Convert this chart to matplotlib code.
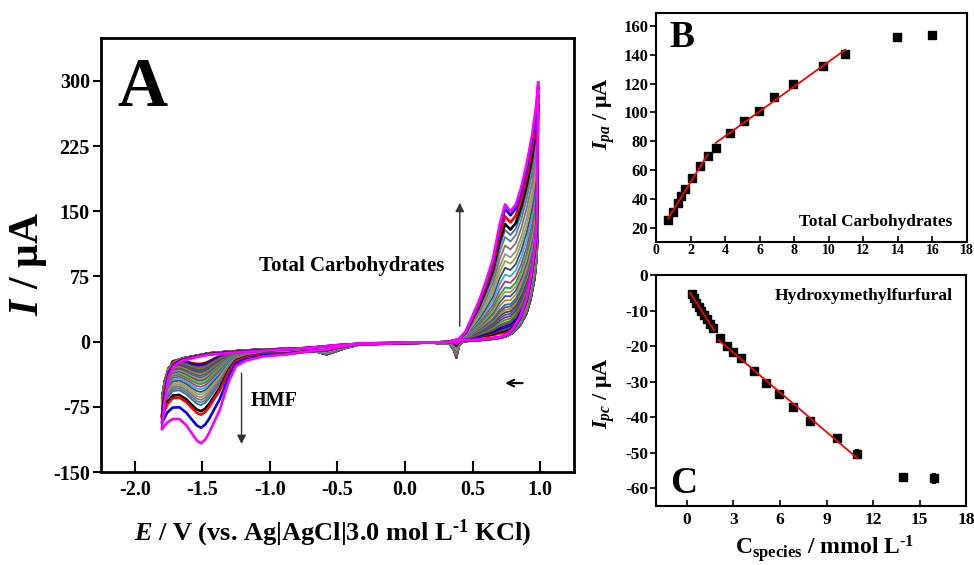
import numpy as np
import matplotlib

matplotlib.use("Agg")
import matplotlib.pyplot as plt

plt.rcParams["font.family"] = ["Liberation Serif", "DejaVu Serif"]
plt.rcParams["font.weight"] = "bold"
plt.rcParams["axes.labelweight"] = "bold"
plt.rcParams["axes.unicode_minus"] = False
plt.rcParams["mathtext.fontset"] = "custom"
plt.rcParams["mathtext.rm"] = "Liberation Serif:bold"
plt.rcParams["mathtext.bf"] = "Liberation Serif:bold"
plt.rcParams["mathtext.it"] = "Liberation Serif:italic:bold"

# ---- panel A: cyclic voltammograms (template shapes) ----
# negative-going sweep, 0.985 V -> -1.80 V
E_ret = [0.985, 0.975, 0.96, 0.93, 0.90, 0.85, 0.80, 0.75, 0.70, 0.60, 0.50, 0.43,
         0.40, 0.38, 0.36, 0.33, 0.20, 0.00, -0.20, -0.35, -0.45, -0.52, -0.58, -0.65,
         -0.75, -0.90, -1.05, -1.18, -1.25, -1.30, -1.33, -1.37, -1.40, -1.45, -1.48,
         -1.51, -1.54, -1.58, -1.62, -1.67, -1.72, -1.76, -1.80]
I_ret_inner = [130, 95, 72, 48, 32, 18, 10, 6, 4, 2, 1, 0,
               -5, -19, -10, -3, -1.5, -2, -3, -4, -8, -12, -15, -12,
               -9, -9, -10, -11, -12, -13, -14, -16, -18, -22, -24,
               -25, -25, -24, -22, -20, -22, -35, -64]
I_ret_outer = [298, 140, 108, 75, 50, 28, 15, 8, 5, 3, 2, 2,
               1, -2, 0, -0.5, -1, -1.5, -2, -3, -5, -7, -9, -10,
               -12, -15, -17, -22, -28, -44, -58, -78, -88, -105, -113,
               -117, -114, -105, -96, -89, -89, -93, -101]
# positive-going sweep, -1.80 V -> 0.985 V
E_fwd = [-1.80, -1.78, -1.75, -1.71, -1.65, -1.55, -1.45, -1.30, -1.10, -0.90, -0.70,
         -0.50, -0.30, -0.10, 0.10, 0.30, 0.40, 0.45, 0.50, 0.55, 0.60, 0.65, 0.70,
         0.74, 0.78, 0.82, 0.86, 0.90, 0.94, 0.97, 0.985]
I_fwd_inner = [-64, -45, -30, -23, -19, -16, -13, -11, -9, -8, -7,
               -5, -3, -2, -1, 0, 0.5, 1.5, 4, 5, 6, 7, 9,
               10, 13, 19, 30, 44, 66, 98, 130]
I_fwd_outer = [-101, -70, -40, -28, -22, -18, -15, -13, -11, -9, -7,
               -4, -2, -1.5, -1, -1, 3, 12, 30, 48, 70, 95, 135,
               158, 150, 158, 178, 205, 238, 272, 298]

# anodic (~0.74 V) and cathodic (~-1.5 V) peak currents of each trace, inner -> outer
anodic_peak = [10, 12, 14, 16, 18, 20, 22, 25, 28, 31, 34, 37, 40, 43, 48,
               53, 58, 63, 70, 78, 86, 94, 102, 112, 122, 130, 137, 146, 155, 160]
cathodic_peak = [-25, -26, -26.5, -27, -28, -29, -30, -31, -32.5, -34, -35.5, -37,
                 -39, -41, -43, -45, -47, -49, -52, -55, -58, -61, -64, -67, -70,
                 -73, -80, -84, -99, -117]
trace_colors = ["#FF0000", "#000000", "#804000", "#0000FF", "#000080", "#C000C0",
                "#00A000", "#808000", "#8020C0", "#007F7F", "#902040", "#80A020",
                "#7040A0", "#208080", "#D08030", "#3050C0", "#B0A030", "#20A040",
                "#C03080", "#20B8D0", "#40408F", "#9AAA30", "#909090", "#8A7060",
                "#5A7FA0", "#3F6F9F", "#000000", "#FF0000", "#0000FF", "#FF00FF"]

# ---- panel B: anodic peak current vs concentration ----
conc_b = [0.7, 1.0, 1.25, 1.45, 1.7, 2.1, 2.55, 3.0, 3.45, 4.3, 5.1, 5.95, 6.85,
          7.95, 9.65, 10.95, 13.95, 15.95]
ipa = [25.5, 31, 37, 42, 47, 54.5, 62.5, 69.5, 75.5, 85.5, 94, 101, 111, 120, 132,
       140.5, 152, 153.5]
ipa_err = [0] * 17 + [2.5]

# ---- panel C: cathodic peak current vs concentration ----
conc_c = [0.3, 0.45, 0.6, 0.75, 0.9, 1.1, 1.3, 1.5, 1.7, 2.15, 2.55, 3.0, 3.5, 4.3,
          5.1, 5.95, 6.85, 7.95, 9.65, 10.95, 13.95, 15.95]
ipc = [-5.4, -6.6, -7.8, -8.9, -10.1, -11.3, -12.5, -13.8, -15.0, -17.6, -20.1,
       -21.8, -23.4, -27.0, -30.4, -33.4, -37.2, -41.0, -46.0, -50.4, -56.8, -57.2]
ipc_err = [0] * 19 + [1.5, 0, 1.5]

fig = plt.figure(figsize=(9.74, 5.65), dpi=100)
fig.patch.set_facecolor("white")
axA = fig.add_axes([0.1037, 0.1646, 0.4856, 0.7690])
axB = fig.add_axes([0.6735, 0.5717, 0.3193, 0.4053])
axC = fig.add_axes([0.6735, 0.1044, 0.3183, 0.4089])

# ---------- A ----------
E_ret_a = np.array(E_ret)
E_fwd_a = np.array(E_fwd)
pa = np.array(anodic_peak, dtype=float)
pc = np.array(cathodic_peak, dtype=float)
wa = (pa - pa.min()) / (pa.max() - pa.min())
wc = (pc - pc.max()) / (pc.min() - pc.max())
n = len(anodic_peak)
for i in range(n):
    w_ret = np.where(E_ret_a > -1.0, wa[i], wc[i])
    w_fwd = np.where(E_fwd_a > -1.0, wa[i], wc[i])
    i_ret = np.array(I_ret_inner) + w_ret * (np.array(I_ret_outer) - np.array(I_ret_inner))
    i_fwd = np.array(I_fwd_inner) + w_fwd * (np.array(I_fwd_outer) - np.array(I_fwd_inner))
    ee = np.concatenate([E_ret_a, E_fwd_a])
    ii = np.concatenate([i_ret, i_fwd])
    lw = 1.9 if i >= n - 4 else 1.3
    axA.plot(ee, ii, color=trace_colors[i], lw=lw, zorder=2 + i * 0.01)

axA.set_xlim(-2.25, 1.25)
axA.set_ylim(-150, 350)
axA.set_xticks(np.arange(-2.0, 1.01, 0.5))
axA.set_xticklabels([f"{v:.1f}" for v in np.arange(-2.0, 1.01, 0.5)])
axA.set_yticks(np.arange(-150, 301, 75))
axA.tick_params(axis="x", direction="in", length=8, width=1.5, labelsize=14.5, pad=6)
axA.tick_params(axis="y", direction="out", length=6, width=1.5, labelsize=14.5, pad=2)
for sp in axA.spines.values():
    sp.set_linewidth(2.0)
axA.set_xlabel(r"$E$ / V (vs. Ag|AgCl|3.0 mol L$^{\text{-1}}$ KCl)", fontsize=19)
axA.xaxis.set_label_coords(0.49, -0.105)
axA.set_ylabel(r"$I$ / μA", fontsize=30)
axA.yaxis.set_label_coords(-0.11, 0.48)
axA.text(-2.13, 271, "A", fontsize=50, fontweight="bold", va="baseline")
axA.text(-1.08, 87, "Total Carbohydrates", fontsize=15, va="center")
axA.text(-1.145, -68.5, "HMF", fontsize=14.5, va="center")
axA.annotate("", xy=(0.405, 163), xytext=(0.405, 14.5),
             arrowprops=dict(arrowstyle="-|>", color="#333333", lw=1.0, mutation_scale=13))
axA.annotate("", xy=(-1.21, -121), xytext=(-1.21, -33),
             arrowprops=dict(arrowstyle="-|>", color="#333333", lw=1.0, mutation_scale=13))
axA.annotate("", xy=(0.72, -47.7), xytext=(0.89, -47.7),
             arrowprops=dict(arrowstyle="->", color="black", lw=1.5, mutation_scale=12))

# ---------- B ----------
axB.errorbar(conc_b, ipa, yerr=ipa_err, fmt="s", color="black", ms=5.6,
             capsize=0, elinewidth=3, zorder=2)
cb = np.array(conc_b)
ib = np.array(ipa)
for lo, hi in [(0, 8), (8, 16)]:
    k, b = np.polyfit(cb[lo:hi], ib[lo:hi], 1)
    xs = np.array([cb[lo], cb[hi - 1]])
    axB.plot(xs, k * xs + b, color="red", lw=1.3, zorder=3)
axB.set_xlim(0, 18)
axB.set_ylim(10, 169)
axB.set_xticks(np.arange(0, 19, 2))
axB.set_yticks(np.arange(20, 161, 20))
axB.tick_params(axis="x", direction="in", length=4, width=1.2, labelsize=10, pad=1.5)
axB.tick_params(axis="y", direction="out", length=4, width=1.2, labelsize=12, pad=1.5)
for sp in axB.spines.values():
    sp.set_linewidth(1.5)
axB.set_ylabel(r"$I_{pa}$ / μA", fontsize=16)
axB.yaxis.set_label_coords(-0.125, 0.56)
axB.text(0.8, 145.4, "B", fontsize=27, fontweight="bold", va="baseline")
axB.text(17.15, 24, "Total Carbohydrates", fontsize=12.4, ha="right", va="center")

# ---------- C ----------
axC.errorbar(conc_c, ipc, yerr=ipc_err, fmt="s", color="black", ms=5.6,
             capsize=0, elinewidth=3, zorder=2)
cc = np.array(conc_c)
ic = np.array(ipc)
for lo, hi in [(0, 9), (9, 20)]:
    k, b = np.polyfit(cc[lo:hi], ic[lo:hi], 1)
    xs = np.array([cc[lo] - 0.1, cc[hi - 1] + 0.05])
    axC.plot(xs, k * xs + b, color="red", lw=1.3, zorder=3)
axC.set_xlim(-2, 18)
axC.set_ylim(-65, 0)
axC.set_xticks(np.arange(0, 19, 3))
axC.set_yticks(np.arange(-60, 1, 10))
axC.tick_params(axis="x", direction="in", length=4, width=1.2, labelsize=12.5, pad=4)
axC.tick_params(axis="y", direction="out", length=4, width=1.2, labelsize=12.5, pad=1.5)
for sp in axC.spines.values():
    sp.set_linewidth(1.5)
axC.set_ylabel(r"$I_{pc}$ / μA", fontsize=16)
axC.yaxis.set_label_coords(-0.125, 0.49)
axC.set_xlabel(r"C$_{\mathrm{species}}$ / mmol L$^{\text{-1}}$", fontsize=17)
axC.xaxis.set_label_coords(0.545, -0.115)
axC.text(-1.1, -61.3, "C", fontsize=27, fontweight="bold", va="baseline")
axC.text(17.12, -5.9, "Hydroxymethylfurfural", fontsize=12.6, ha="right", va="center")

fig.savefig("out.png", dpi=100, facecolor="white")
